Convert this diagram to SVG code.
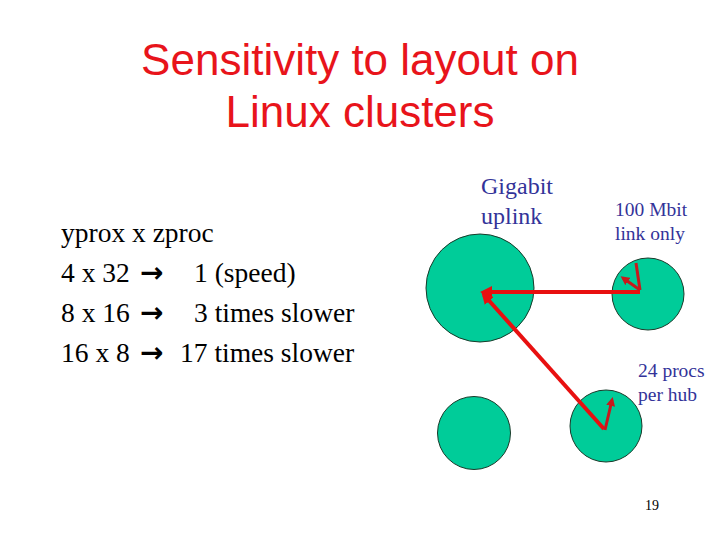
<svg xmlns="http://www.w3.org/2000/svg" width="720" height="540" viewBox="0 0 720 540">
<style>
.title{font-family:"Liberation Sans",Arial,sans-serif;font-size:44px;fill:#E8141B;text-anchor:middle}
.body{font-family:"Liberation Serif","Times New Roman",serif;font-size:27.5px;fill:#000}
.arr{font-family:"DejaVu Sans",sans-serif;font-weight:bold;font-size:28px}
.lbl{font-family:"Liberation Serif","Times New Roman",serif;fill:#333399}
.hub{fill:#00CC99;stroke:#1a3a2a;stroke-width:1}
.link{stroke:#E81010;stroke-width:4;fill:none}
.loc{stroke:#C8181C;stroke-width:3;fill:none}
</style>
<defs>
<marker id="ah" markerWidth="3" markerHeight="3" refX="2" refY="1.5" orient="auto" markerUnits="strokeWidth">
<path d="M0,0 L3,1.5 L0,3 z" fill="#E81010"/>
</marker>
<marker id="ah2" markerWidth="3" markerHeight="3" refX="2" refY="1.5" orient="auto" markerUnits="strokeWidth">
<path d="M0,0 L3,1.5 L0,3 z" fill="#C8181C"/>
</marker>
</defs>
<g id="title">
<text class="title" x="360" y="75">Sensitivity to layout on</text>
<text class="title" x="360" y="127">Linux clusters</text>
</g>
<g id="results">
<text class="body" x="61" y="242">yprox x zproc</text>
<text class="body" x="61" y="282">4 x 32 <tspan class="arr" x="140">→</tspan><tspan x="194">1 (speed)</tspan></text>
<text class="body" x="61" y="322">8 x 16 <tspan class="arr" x="140">→</tspan><tspan x="194">3 times slower</tspan></text>
<text class="body" x="61" y="362">16 x 8 <tspan class="arr" x="140">→</tspan><tspan x="180">17 times slower</tspan></text>
</g>
<g id="hub-gigabit"><circle class="hub" cx="480" cy="288" r="54"/></g>
<g id="hub-100mbit"><circle class="hub" cx="648" cy="294" r="36"/></g>
<g id="hub-bottom-left"><circle class="hub" cx="474" cy="433" r="36.5"/></g>
<g id="hub-bottom-right"><circle class="hub" cx="606" cy="426" r="36"/></g>
<g id="connectors">
<line class="link" x1="640" y1="292" x2="484" y2="292" marker-end="url(#ah)"/>
<line class="link" x1="604" y1="429" x2="484" y2="295" marker-end="url(#ah)"/>
<line class="loc" x1="640" y1="290" x2="623" y2="278" marker-end="url(#ah2)"/>
<line class="loc" x1="640" y1="290" x2="636" y2="263"/>
<line class="loc" x1="605" y1="430" x2="612" y2="400" marker-end="url(#ah2)"/>
</g>
<g id="labels">
<text class="lbl" x="481" y="194" font-size="24">Gigabit</text>
<text class="lbl" x="481" y="224" font-size="24">uplink</text>
<text class="lbl" x="615" y="216" font-size="19.5">100 Mbit</text>
<text class="lbl" x="615" y="240" font-size="19.5">link only</text>
<text class="lbl" x="638" y="377" font-size="19.5">24 procs</text>
<text class="lbl" x="638" y="401" font-size="19.5">per hub</text>
<text x="645" y="510" font-family="Liberation Serif, serif" font-size="14" fill="#000">19</text>
</g>
</svg>
